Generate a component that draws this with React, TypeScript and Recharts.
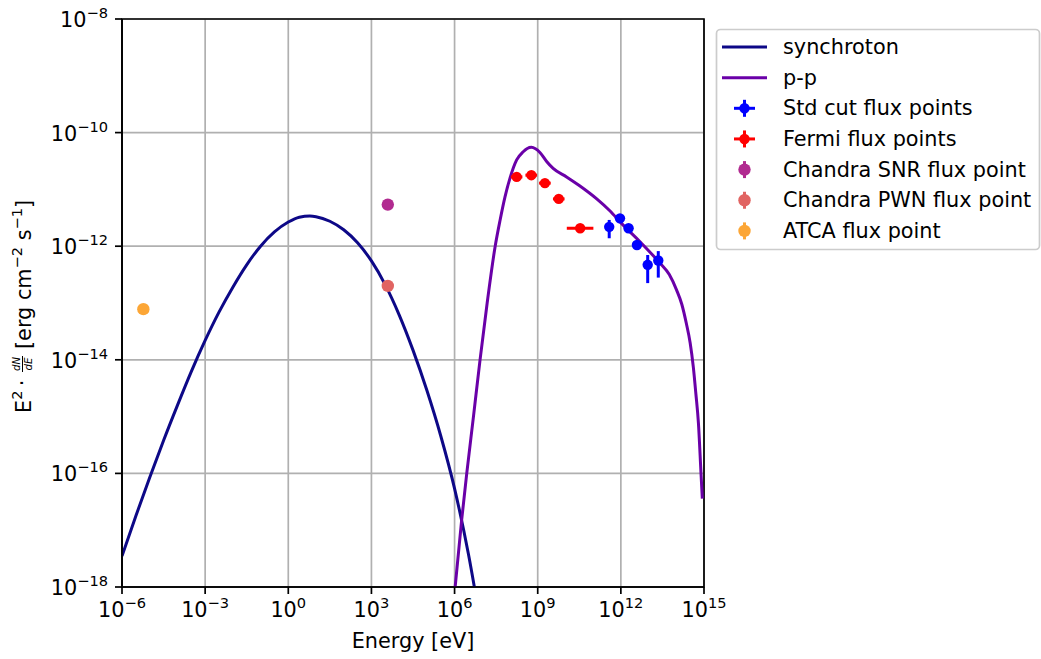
import React from "react";
import { CartesianGrid, ComposedChart, ErrorBar, Line, ReferenceArea, Scatter, XAxis, YAxis } from "recharts";

const FONT = "DejaVu Sans, sans-serif";

const xTicks = [1e-6, 1e-3, 1, 1e3, 1e6, 1e9, 1e12, 1e15];
const yTicks = [1e-18, 1e-16, 1e-14, 1e-12, 1e-10, 1e-8];

// synchrotron model curve
const syncEnergy = [1e-6, 3.16e-6, 1e-5, 3.16e-5, 1e-4, 3.16e-4, 1e-3, 3.16e-3, 1e-2, 3.16e-2, 0.1, 0.316, 1, 2.5, 6, 10, 31.6, 100, 316, 1e3, 3.16e3, 1e4, 3.16e4, 1e5, 3.16e5, 1e6, 3.16e6, 1e7];
const syncFlux = [3.5e-18, 1.78e-17, 8.5e-17, 3.8e-16, 1.58e-15, 6.2e-15, 2.19e-14, 6.9e-14, 1.9e-13, 4.7e-13, 1.0e-12, 1.78e-12, 2.66e-12, 3.24e-12, 3.39e-12, 3.31e-12, 2.75e-12, 1.95e-12, 1.15e-12, 5.5e-13, 2.09e-13, 6.2e-14, 1.48e-14, 2.9e-15, 4.6e-16, 5.4e-17, 3.8e-18, 1.5e-19];

// p-p model curve
const ppEnergy = [8.9e5, 1.05e6, 1.8e6, 2.75e6, 4.8e6, 8.3e6, 1.5e7, 2.9e7, 4.4e7, 6.6e7, 1.0e8, 1.74e8, 3.0e8, 4.2e8, 5.9e8, 8.3e8, 1.2e9, 2.1e9, 3.6e9, 1.1e10, 3.16e10, 1.35e11, 4.0e11, 1.07e12, 4.9e12, 2.6e13, 5.6e13, 1.02e14, 1.58e14, 2.3e14, 3.16e14, 4.1e14, 5.1e14, 6.3e14, 7.8e14, 8.7e14];
const ppFlux = [4.0e-19, 1.0e-18, 1.5e-17, 1.0e-16, 1.0e-15, 1.0e-14, 1.0e-13, 9.8e-13, 2.9e-12, 7.4e-12, 1.58e-11, 3.3e-11, 4.6e-11, 5.25e-11, 5.5e-11, 5.2e-11, 4.47e-11, 3.1e-11, 2.34e-11, 1.66e-11, 1.17e-11, 6.8e-12, 4.2e-12, 2.5e-12, 1.2e-12, 5.0e-13, 3.16e-13, 1.7e-13, 9.5e-14, 4.4e-14, 2.0e-14, 7.6e-15, 2.5e-15, 7.6e-16, 1.0e-16, 3.6e-17];

// Std cut flux points
const stdEnergy = [3.8e11, 9.3e11, 1.9e12, 3.8e12, 9.3e12, 2.24e13];
const stdFlux = [2.19e-12, 3.09e-12, 2.07e-12, 1.05e-12, 4.7e-13, 5.6e-13];
const stdFluxLo = [1.38e-12, 2.85e-12, 1.9e-12, 0.95e-12, 2.24e-13, 2.8e-13];
const stdFluxHi = [2.9e-12, 3.35e-12, 2.25e-12, 1.15e-12, 7.0e-13, 8.2e-13];

// Fermi flux points
const fermiEnergy = [1.74e8, 5.9e8, 1.82e9, 5.75e9, 3.4e10];
const fermiEnergyLo = [1.07e8, 3.6e8, 1.12e9, 3.55e9, 1.12e10];
const fermiEnergyHi = [2.8e8, 9.5e8, 2.95e9, 9.3e9, 1.02e11];
const fermiFlux = [1.66e-11, 1.78e-11, 1.29e-11, 6.8e-12, 2.07e-12];
const fermiFluxLo = [1.52e-11, 1.63e-11, 1.18e-11, 6.2e-12, 1.9e-12];
const fermiFluxHi = [1.81e-11, 1.94e-11, 1.41e-11, 7.4e-12, 2.25e-12];

// single points
const snrPoint = { x: 3.9e3, y: 5.4e-12 };
const pwnPoint = { x: 3.9e3, y: 2.0e-13 };
const atcaPoint = { x: 5.9e-6, y: 7.8e-14 };

const C_SYNC = "#0d0887";
const C_PP = "#6a00a8";
const C_STD = "#0000ff";
const C_FERMI = "#ff0000";
const C_SNR = "#b12a90";
const C_PWN = "#e16462";
const C_ATCA = "#fca636";

const syncData = syncEnergy.map((x, i) => ({ x, y: syncFlux[i] }));
const ppData = ppEnergy.map((x, i) => ({ x, y: ppFlux[i] }));
const stdData = stdEnergy.map((x, i) => ({
    x,
    y: stdFlux[i],
    ey: [stdFlux[i] - stdFluxLo[i], stdFluxHi[i] - stdFlux[i]],
}));
const fermiData = fermiEnergy.map((x, i) => ({
    x,
    y: fermiFlux[i],
    ex: [x - fermiEnergyLo[i], fermiEnergyHi[i] - x],
    ey: [fermiFlux[i] - fermiFluxLo[i], fermiFluxHi[i] - fermiFlux[i]],
}));

const expText = (v: number) => {
    const e = Math.round(Math.log10(v));
    return e < 0 ? "\u2212" + Math.abs(e) : String(e);
};

const XTick = ({ x, y, payload }: any) => (
    <text x={x} y={y + 16} textAnchor="middle" fontFamily={FONT} fontSize={20.8} fill="#000">
        10<tspan dy={-9} fontSize={14.6}>{expText(payload.value)}</tspan>
    </text>
);

const YTick = ({ x, y, payload }: any) => (
    <text x={x} y={y + 8} textAnchor="end" fontFamily={FONT} fontSize={20.8} fill="#000">
        10<tspan dy={-9} fontSize={14.6}>{expText(payload.value)}</tspan>
    </text>
);

const dot = (r: number, color: string) => (p: any) => <circle cx={p.cx} cy={p.cy} r={r} fill={color} />;

const legendRows = [
    { label: "synchroton", kind: "line", color: C_SYNC },
    { label: "p-p", kind: "line", color: C_PP },
    { label: "Std cut flux points", kind: "cross", color: C_STD },
    { label: "Fermi flux points", kind: "cross", color: C_FERMI },
    { label: "Chandra SNR flux point", kind: "vdot", color: C_SNR },
    { label: "Chandra PWN flux point", kind: "vdot", color: C_PWN },
    { label: "ATCA flux point", kind: "vdot", color: C_ATCA },
];

const Overlay = () => (
    <svg width={1041} height={659} style={{ position: "absolute", left: 0, top: 0, pointerEvents: "none" }}>
        <text x={413} y={648} textAnchor="middle" fontFamily={FONT} fontSize={20.8} fill="#000">Energy [eV]</text>
        <g transform="translate(31,303) rotate(-90)" fontFamily={FONT} fill="#000">
            <text x={-110} y={0} fontSize={20.8}>
                E<tspan dy={-9} fontSize={14.6}>2</tspan>
            </text>
            <text x={-80} y={-2} fontSize={20.8} textAnchor="middle">·</text>
            <text x={-61} y={-11} fontSize={10.2} fontStyle="italic" textAnchor="middle">dN</text>
            <line x1={-69} x2={-53} y1={-8.5} y2={-8.5} stroke="#000" strokeWidth={1} />
            <text x={-61} y={0.5} fontSize={10.2} fontStyle="italic" textAnchor="middle">dE</text>
            <text x={-46} y={0} fontSize={20.8}>
                [erg cm<tspan dy={-9} fontSize={14.6}>{"\u22122"}</tspan>
                <tspan dy={9}> s</tspan>
                <tspan dy={-9} fontSize={14.6}>{"\u22121"}</tspan>
                <tspan dy={9}>]</tspan>
            </text>
        </g>
        <rect x={716.5} y={29.5} width={323} height={220} rx={4} fill="#fff" fillOpacity={0.8} stroke="#cccccc" strokeWidth={1.7} />
        {legendRows.map((row, i) => {
            const cy = 47 + i * 30.65;
            return (
                <g key={row.label}>
                    {row.kind === "line" && (
                        <line x1={722} x2={767} y1={cy} y2={cy} stroke={row.color} strokeWidth={3} />
                    )}
                    {row.kind === "cross" && (
                        <g stroke={row.color} strokeWidth={3}>
                            <line x1={734} x2={755} y1={cy} y2={cy} />
                            <line x1={744.5} x2={744.5} y1={cy - 8.5} y2={cy + 8.5} />
                            <circle cx={744.5} cy={cy} r={5.2} fill={row.color} stroke="none" />
                        </g>
                    )}
                    {row.kind === "vdot" && (
                        <g stroke={row.color} strokeWidth={3}>
                            <line x1={744.5} x2={744.5} y1={cy - 8.5} y2={cy + 8.5} />
                            <circle cx={744.5} cy={cy} r={6.2} fill={row.color} stroke="none" />
                        </g>
                    )}
                    <text x={783} y={cy + 7} fontFamily={FONT} fontSize={20.8} fill="#000">{row.label}</text>
                </g>
            );
        })}
    </svg>
);

export default function App() {
    return (
        <div style={{ position: "relative", width: 1041, height: 659, background: "#fff" }}>
            <style>{"body{margin:0}"}</style>
            <ComposedChart width={1041} height={659} margin={{ top: 19, right: 337, bottom: 0, left: 0 }}>
                <CartesianGrid stroke="#b0b0b0" strokeWidth={1.7} />
                <XAxis
                    dataKey="x"
                    type="number"
                    scale="log"
                    domain={[1e-6, 1e15]}
                    ticks={xTicks}
                    allowDataOverflow
                    height={72}
                    tick={<XTick />}
                    tickSize={7}
                    tickMargin={7}
                    axisLine={{ stroke: "#000", strokeWidth: 1.7 }}
                    tickLine={{ stroke: "#000", strokeWidth: 1.7 }}
                    interval={0}
                />
                <YAxis
                    dataKey="y"
                    type="number"
                    scale="log"
                    domain={[1e-18, 1e-8]}
                    ticks={yTicks}
                    allowDataOverflow
                    width={122}
                    tick={<YTick />}
                    tickSize={7}
                    tickMargin={7}
                    axisLine={{ stroke: "#000", strokeWidth: 1.7 }}
                    tickLine={{ stroke: "#000", strokeWidth: 1.7 }}
                    interval={0}
                />
                <Line data={syncData} dataKey="y" type="monotone" stroke={C_SYNC} strokeWidth={3} dot={false} activeDot={false} isAnimationActive={false} />
                <Line data={ppData} dataKey="y" type="monotone" stroke={C_PP} strokeWidth={3} dot={false} activeDot={false} isAnimationActive={false} />
                <Scatter data={stdData} fill={C_STD} shape={dot(5.2, C_STD)} isAnimationActive={false}>
                    <ErrorBar dataKey="ey" direction="y" width={0} stroke={C_STD} strokeWidth={3} />
                </Scatter>
                <Scatter data={fermiData} fill={C_FERMI} shape={dot(5.2, C_FERMI)} isAnimationActive={false}>
                    <ErrorBar dataKey="ex" direction="x" width={0} stroke={C_FERMI} strokeWidth={3} />
                    <ErrorBar dataKey="ey" direction="y" width={0} stroke={C_FERMI} strokeWidth={3} />
                </Scatter>
                <Scatter data={[snrPoint]} fill={C_SNR} shape={dot(6.2, C_SNR)} isAnimationActive={false} />
                <Scatter data={[pwnPoint]} fill={C_PWN} shape={dot(6.2, C_PWN)} isAnimationActive={false} />
                <Scatter data={[atcaPoint]} fill={C_ATCA} shape={dot(6.2, C_ATCA)} isAnimationActive={false} />
                <ReferenceArea x1={1e-6} x2={1e15} y1={1e-18} y2={1e-8} fill="none" stroke="#000" strokeWidth={1.7} ifOverflow="visible" />
            </ComposedChart>
            <Overlay />
        </div>
    );
}
